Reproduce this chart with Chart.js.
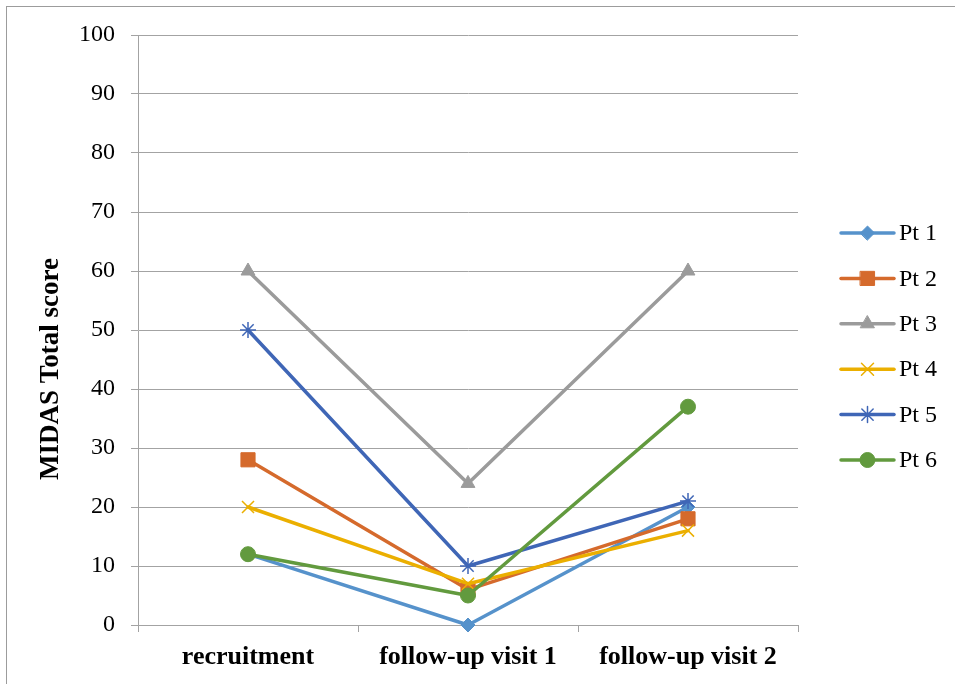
<!DOCTYPE html>
<html>
<head>
<meta charset="utf-8">
<script src="https://cdn.jsdelivr.net/npm/chart.js@4/dist/chart.umd.min.js"></script>
<style>
  html, body { margin: 0; padding: 0; background: #fff; }
  #wrap { width: 955px; height: 684px; position: relative; }
</style>
</head>
<body>
<div id="wrap"><canvas id="c"></canvas></div>
<script>
// Visits along the x axis
const visits = ['recruitment', 'follow-up visit 1', 'follow-up visit 2'];

// MIDAS total score per patient at each visit
const pt1 = [12, 0, 20];
const pt2 = [28, 6, 18];
const pt3 = [60, 24, 60];
const pt4 = [20, 7, 16];
const pt5 = [50, 10, 21];
const pt6 = [12, 5, 37];

const seriesNames = ['Pt 1', 'Pt 2', 'Pt 3', 'Pt 4', 'Pt 5', 'Pt 6'];

// Y axis range and tick step
const yMin = 0;
const yMax = 100;
const yStep = 10;

const SERIF = '"Liberation Serif", "Times New Roman", serif';
const GRID = '#a3a3a3';

const styles = [
  { color: '#5692CB', point: 'rectRot', radius: 7, bw: 1 },
  { color: '#D56A2C', point: 'rect', radius: 10, bw: 1 },
  { color: '#9B9B9B', point: 'triangle', radius: 8, bw: 1 },
  { color: '#EBAF00', point: 'crossRot', radius: 8.5, bw: 1.5 },
  { color: '#3F66B6', point: 'star', radius: 8, bw: 1.5 },
  { color: '#629A3E', point: 'circle', radius: 7.5, bw: 1 }
];

const values = [pt1, pt2, pt3, pt4, pt5, pt6];

const datasets = values.map((v, i) => ({
  label: seriesNames[i],
  data: v,
  borderColor: styles[i].color,
  backgroundColor: styles[i].color,
  pointBackgroundColor: styles[i].color,
  pointBorderColor: styles[i].color,
  pointBorderWidth: styles[i].bw,
  pointStyle: styles[i].point,
  pointRadius: styles[i].radius,
  borderWidth: 3.5,
  borderCapStyle: 'round',
  borderJoinStyle: 'round',
  tension: 0,
  clip: false,
  order: values.length - i
}));

// Thin frame around the whole chart
const frame = {
  id: 'frame',
  beforeDraw(chart) {
    const ctx = chart.ctx;
    ctx.save();
    ctx.strokeStyle = '#9c9c9c';
    ctx.lineWidth = 1;
    ctx.strokeRect(6.5, 6.5, chart.width + 20, chart.height + 20);
    ctx.restore();
  }
};

// Rotated y-axis title
const yTitle = {
  id: 'yTitle',
  afterDraw(chart) {
    const ctx = chart.ctx;
    ctx.save();
    ctx.translate(51, 369);
    ctx.rotate(-Math.PI / 2);
    ctx.font = 'bold 27px ' + SERIF;
    ctx.fillStyle = '#000';
    ctx.textAlign = 'center';
    ctx.textBaseline = 'middle';
    ctx.fillText('MIDAS Total score', 0, 0);
    ctx.restore();
  }
};

// Legend at the right: a short line with the series marker, then the name
const sideLegend = {
  id: 'sideLegend',
  afterDraw(chart) {
    const ctx = chart.ctx;
    const x0 = chart.chartArea.right + 43;
    chart.data.datasets.forEach((ds, i) => {
      const y = 233 + i * 45.4;
      ctx.save();
      ctx.strokeStyle = ds.borderColor;
      ctx.lineWidth = 3.5;
      ctx.lineCap = 'round';
      ctx.beginPath();
      ctx.moveTo(x0, y);
      ctx.lineTo(x0 + 53, y);
      ctx.stroke();
      ctx.fillStyle = ds.pointBackgroundColor;
      ctx.strokeStyle = ds.pointBorderColor;
      ctx.lineWidth = ds.pointBorderWidth;
      Chart.helpers.drawPoint(ctx, {
        pointStyle: ds.pointStyle,
        rotation: 0,
        radius: ds.pointRadius,
        borderWidth: ds.pointBorderWidth
      }, x0 + 26.5, y);
      ctx.fillStyle = '#000';
      ctx.font = '24px ' + SERIF;
      ctx.textAlign = 'left';
      ctx.textBaseline = 'middle';
      ctx.fillText(ds.label, x0 + 58, y + 1);
      ctx.restore();
    });
  }
};

new Chart(document.getElementById('c'), {
  type: 'line',
  data: { labels: visits, datasets },
  plugins: [frame, yTitle, sideLegend],
  options: {
    responsive: true,
    maintainAspectRatio: false,
    animation: false,
    layout: { padding: { left: 0, top: 35, right: 157, bottom: 0 } },
    plugins: {
      legend: { display: false },
      tooltip: { enabled: false }
    },
    scales: {
      x: {
        type: 'category',
        offset: true,
        afterFit(s) { s.height = 59; },
        grid: {
          offset: true,
          drawOnChartArea: false,
          drawTicks: true,
          tickLength: 7,
          color: GRID,
          lineWidth: 1
        },
        border: { color: GRID, width: 1 },
        ticks: {
          color: '#000',
          padding: 10,
          font: { family: SERIF, size: 26, weight: 'bold' }
        }
      },
      y: {
        min: yMin,
        max: yMax,
        afterFit(s) { s.width = 138; },
        grid: {
          color: GRID,
          lineWidth: 1,
          tickLength: 7
        },
        border: { color: GRID, width: 1 },
        ticks: {
          stepSize: yStep,
          color: '#000',
          padding: 16,
          font: { family: SERIF, size: 24 }
        }
      }
    }
  }
});
</script>
</body>
</html>
